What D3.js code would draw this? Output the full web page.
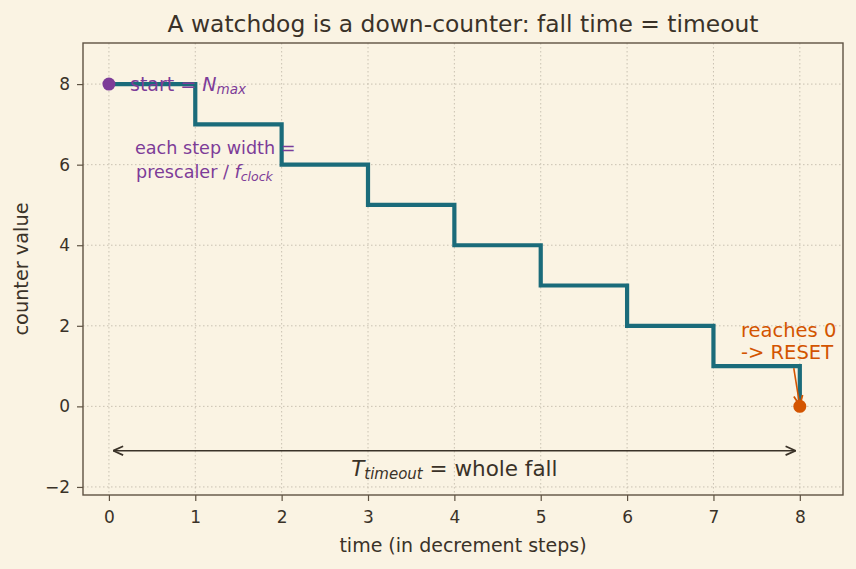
<!DOCTYPE html>
<html>
<head>
<meta charset="utf-8">
<script src="https://cdn.jsdelivr.net/npm/d3@7"></script>
<style>
  body { margin: 0; background: #faf3e3; }
  text { font-family: "DejaVu Sans", sans-serif; }
</style>
</head>
<body>
<div id="chart"></div>
<script>
// data
const steps = [0, 1, 2, 3, 4, 5, 6, 7, 8];
const counts = [8, 7, 6, 5, 4, 3, 2, 1, 0];
const xTicks = [0, 1, 2, 3, 4, 5, 6, 7, 8];
const yTicks = [-2, 0, 2, 4, 6, 8];

const width = 856, height = 569;
const margin = { left: 83, right: 13, top: 43, bottom: 74 };

const ink = "#3a3228";
const teal = "#1a6b7a";
const purple = "#7d3c98";
const orange = "#d35400";

const svg = d3.select("#chart").append("svg")
  .attr("width", width).attr("height", height);

svg.append("rect").attr("width", width).attr("height", height).attr("fill", "#faf3e3");

const x = d3.scaleLinear().domain([-0.3, 8.5]).range([margin.left, width - margin.right]);
const y = d3.scaleLinear().domain([-2.2, 9.02]).range([height - margin.bottom, margin.top]);

// grid
const grid = svg.append("g").attr("stroke", "#bdb5a6").attr("stroke-width", 0.8).attr("stroke-dasharray", "1.5,2.5");
grid.selectAll(".gx").data(xTicks).enter().append("line")
  .attr("x1", d => x(d)).attr("x2", d => x(d))
  .attr("y1", margin.top).attr("y2", height - margin.bottom);
grid.selectAll(".gy").data(yTicks).enter().append("line")
  .attr("y1", d => y(d)).attr("y2", d => y(d))
  .attr("x1", margin.left).attr("x2", width - margin.right);

// axes
const xAxis = svg.append("g")
  .attr("transform", "translate(0," + (height - margin.bottom) + ")")
  .call(d3.axisBottom(x).tickValues(xTicks).tickSize(6).tickPadding(10).tickFormat(d3.format("d")));
const yAxis = svg.append("g")
  .attr("transform", "translate(" + margin.left + ",0)")
  .call(d3.axisLeft(y).tickValues(yTicks).tickSize(6).tickPadding(7).tickFormat(d => d < 0 ? "\u2212" + (-d) : d));
[xAxis, yAxis].forEach(a => {
  a.select(".domain").remove();
  a.selectAll(".tick line").attr("stroke", "#5e5242").attr("stroke-width", 1.2);
  a.selectAll(".tick text").attr("fill", ink).attr("font-size", 17).attr("font-family", "DejaVu Sans");
});

// frame
svg.append("rect")
  .attr("x", margin.left).attr("y", margin.top)
  .attr("width", width - margin.left - margin.right)
  .attr("height", height - margin.top - margin.bottom)
  .attr("fill", "none").attr("stroke", "#5e5242").attr("stroke-width", 1.4);

// step line
const pts = steps.map((t, i) => [t, counts[i]]);
svg.append("path")
  .datum(pts)
  .attr("fill", "none")
  .attr("stroke", teal)
  .attr("stroke-width", 4.2)
  .attr("d", d3.line().x(d => x(d[0])).y(d => y(d[1])).curve(d3.curveStepAfter));

// arrow markers
const defs = svg.append("defs");
function marker(id, color, orient) {
  defs.append("marker").attr("id", id)
    .attr("viewBox", "0 0 10 10").attr("refX", 10).attr("refY", 5)
    .attr("markerWidth", 11).attr("markerHeight", 11).attr("markerUnits", "userSpaceOnUse")
    .attr("orient", orient)
    .append("path").attr("d", "M1,1 L10,5 L1,9").attr("fill", "none")
    .attr("stroke", color).attr("stroke-width", 1.6);
}
marker("arrInk", ink, "auto-start-reverse");
marker("arrOrange", orange, "auto");

// timeout span arrow
svg.append("line")
  .attr("x1", x(0.05)).attr("x2", x(7.95))
  .attr("y1", y(-1.1)).attr("y2", y(-1.1))
  .attr("stroke", ink).attr("stroke-width", 1.6)
  .attr("marker-start", "url(#arrInk)").attr("marker-end", "url(#arrInk)");

const tt = svg.append("text")
  .attr("x", x(4)).attr("y", 476)
  .attr("text-anchor", "middle").attr("font-size", 21.5).attr("fill", ink);
tt.append("tspan").attr("font-style", "italic").text("T");
tt.append("tspan").attr("font-style", "italic").attr("font-size", 15).attr("dy", 3).text("timeout");
tt.append("tspan").attr("dy", -3).text(" = whole fall");

// reset arrow
svg.append("line")
  .attr("x1", x(7.93)).attr("y1", y(0.95))
  .attr("x2", x(8)).attr("y2", y(0.02))
  .attr("stroke", orange).attr("stroke-width", 1.6)
  .attr("marker-end", "url(#arrOrange)");

svg.append("text").attr("x", 741).attr("y", 337).attr("font-size", 19.5).attr("fill", orange).text("reaches 0");
svg.append("text").attr("x", 741).attr("y", 359).attr("font-size", 19.5).attr("fill", orange).text("-> RESET");

// start / end points
svg.append("circle").attr("cx", x(steps[0])).attr("cy", y(counts[0])).attr("r", 6.5).attr("fill", purple);
svg.append("circle").attr("cx", x(steps[steps.length - 1])).attr("cy", y(counts[counts.length - 1])).attr("r", 6.5).attr("fill", orange);

// start label
const st = svg.append("text").attr("x", 130).attr("y", 91).attr("font-size", 19).attr("fill", purple);
st.append("tspan").text("start = ");
st.append("tspan").attr("font-style", "italic").text("N");
st.append("tspan").attr("font-style", "italic").attr("font-size", 13.5).attr("dy", 3).text("max");

svg.append("text").attr("x", 135).attr("y", 154).attr("font-size", 17.6).attr("fill", purple).text("each step width =");
const ps = svg.append("text").attr("x", 136).attr("y", 178).attr("font-size", 17.6).attr("fill", purple);
ps.append("tspan").text("prescaler / ");
ps.append("tspan").attr("font-style", "italic").text("f");
ps.append("tspan").attr("font-style", "italic").attr("font-size", 12.5).attr("dy", 3).text("clock");

// titles
svg.append("text").attr("x", (margin.left + width - margin.right) / 2).attr("y", 32)
  .attr("text-anchor", "middle").attr("font-size", 23.4).attr("fill", ink)
  .text("A watchdog is a down-counter: fall time = timeout");
svg.append("text").attr("x", (margin.left + width - margin.right) / 2).attr("y", 552)
  .attr("text-anchor", "middle").attr("font-size", 19).attr("fill", ink)
  .text("time (in decrement steps)");
svg.append("text")
  .attr("transform", "translate(28," + ((margin.top + height - margin.bottom) / 2) + ") rotate(-90)")
  .attr("text-anchor", "middle").attr("font-size", 19.3).attr("fill", ink)
  .text("counter value");
</script>
</body>
</html>
